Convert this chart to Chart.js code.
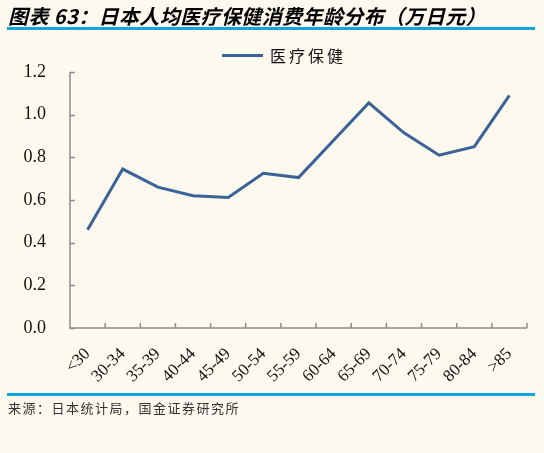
<!DOCTYPE html>
<html><head><meta charset="utf-8">
<script src="https://cdn.jsdelivr.net/npm/chart.js@4/dist/chart.umd.min.js"></script>
<style>
html,body{margin:0;padding:0;background:#FEF9EF;}
#wrap{position:relative;width:544px;height:453px;background:#FEF9EF;overflow:hidden;}
#title{position:absolute;left:8px;top:1px;font:italic bold 20px "Noto Sans CJK SC","Liberation Sans",sans-serif;color:#000;white-space:nowrap;letter-spacing:0.4px;}
.rule{position:absolute;left:7px;width:528px;height:3px;background:#12A3E3;}
#src{position:absolute;left:8px;top:398px;font:13px "Noto Sans CJK SC",sans-serif;color:#333;letter-spacing:1.5px;white-space:nowrap;}
#c{position:absolute;left:0;top:0;}
#legLine{position:absolute;left:222px;top:54px;width:41px;height:3px;background:#3A6398;}
#legText{position:absolute;left:270px;top:44px;font:16px "Noto Sans CJK SC",sans-serif;color:#111;letter-spacing:3px;line-height:22px;white-space:nowrap;}
</style></head>
<body><div id="wrap">
<canvas id="c" width="544" height="453"></canvas>
<div id="title">图表 63：日本人均医疗保健消费年龄分布（万日元）</div>
<div class="rule" style="top:27px"></div>
<div id="legLine"></div><div id="legText"></div>
<div class="rule" style="top:393px"></div>
<div id="src">来源：日本统计局，国金证券研究所</div>
</div>
<script>
const categories = ['<30','30-34','35-39','40-44','45-49','50-54','55-59','60-64','65-69','70-74','75-79','80-84','>85'];
const seriesName = '医疗保健';
const values = [0.46, 0.745, 0.66, 0.62, 0.612, 0.725, 0.705, 0.88, 1.055, 0.915, 0.81, 0.85, 1.09];
const yTicks = [0, 0.2, 0.4, 0.6, 0.8, 1.0, 1.2];

const lineColor = '#3A6398';
const axisColor = '#8C8C8C';
document.getElementById('legText').textContent = seriesName;

const inwardTicks = {
  id: 'inwardTicks',
  afterDraw(chart) {
    const ctx = chart.ctx, a = chart.chartArea;
    const x = chart.scales.x, y = chart.scales.y;
    ctx.save();
    ctx.strokeStyle = axisColor; ctx.lineWidth = 1.5;
    ctx.beginPath();
    ctx.moveTo(a.left, a.top); ctx.lineTo(a.left, a.bottom); ctx.lineTo(a.right, a.bottom);
    yTicks.forEach(v => { const py = Math.round(y.getPixelForValue(v)) + 0.5; ctx.moveTo(a.left, py); ctx.lineTo(a.left + 5, py); });
    for (let i = 0; i <= categories.length; i++) {
      const px = (i < categories.length ? x.getPixelForValue(i) - (x.getPixelForValue(1) - x.getPixelForValue(0)) / 2 : a.right);
      ctx.moveTo(px, a.bottom); ctx.lineTo(px, a.bottom - 5);
    }
    ctx.stroke();
    ctx.restore();
  }
};

new Chart(document.getElementById('c'), {
  type: 'line',
  data: { labels: categories, datasets: [{ label: seriesName, data: values, borderColor: lineColor, backgroundColor: lineColor, borderWidth: 3, pointRadius: 0, tension: 0 }] },
  options: {
    responsive: false, animation: false, devicePixelRatio: 1,
    layout: { padding: { left: 0, right: 17, top: 72, bottom: 0 } },
    plugins: {
      legend: { display: false },
      tooltip: { enabled: false }
    },
    scales: {
      x: { offset: true,
        grid: { display: false, drawTicks: false },
        border: { display: false },
        ticks: { autoSkip: false, maxRotation: 45, minRotation: 45, padding: 16, color: '#111', font: { family: '"Liberation Serif", serif', size: 17 } },
        afterFit(s) { s.height = 125; } },
      y: { min: 0, max: 1.2,
        grid: { display: false, drawTicks: false },
        border: { display: false },
        afterBuildTicks(s) { s.ticks = yTicks.map(v => ({ value: v })); },
        ticks: { padding: 24, color: '#111', font: { family: '"Liberation Serif", serif', size: 18 }, callback: v => Number(v).toFixed(1) },
        afterFit(s) { s.width = 70; } }
    }
  },
  plugins: [inwardTicks]
});
</script>
</body></html>
